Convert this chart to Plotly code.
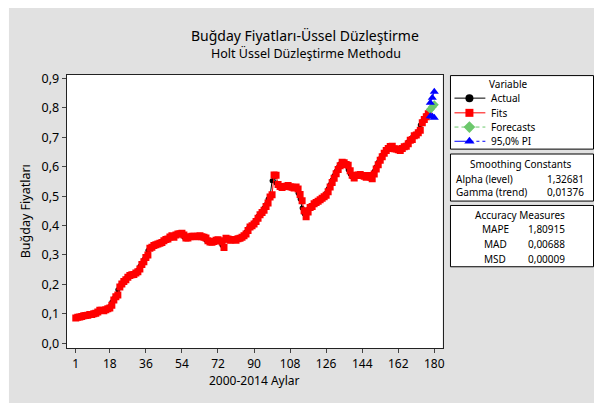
import plotly.graph_objects as go

W, H = 596, 407

actual = [
    0.087, 0.088, 0.090, 0.091, 0.092, 0.093, 0.095, 0.096, 0.098, 0.100,
    0.103, 0.108, 0.110, 0.109, 0.112, 0.115, 0.118,
    0.125, 0.140, 0.152, 0.160, 0.182, 0.195, 0.205,
    0.212, 0.220, 0.226, 0.230, 0.232, 0.236, 0.240, 0.248,
    0.262, 0.272, 0.285, 0.295, 0.315, 0.322, 0.328, 0.332,
    0.335, 0.338, 0.340, 0.345, 0.350, 0.352, 0.358, 0.362, 0.360, 0.365,
    0.368, 0.370, 0.372, 0.368, 0.360, 0.358, 0.360, 0.362, 0.363, 0.362,
    0.363, 0.364, 0.362, 0.360, 0.358, 0.350, 0.345, 0.343, 0.345, 0.348,
    0.350, 0.348, 0.345, 0.333, 0.350, 0.352, 0.350, 0.351, 0.352, 0.350,
    0.353, 0.355, 0.358, 0.362, 0.368, 0.378, 0.390, 0.396, 0.402, 0.410,
    0.420, 0.432, 0.440, 0.448, 0.460, 0.472, 0.490, 0.500, 0.552,
    0.565, 0.545, 0.535, 0.530, 0.532, 0.533, 0.535, 0.532, 0.530, 0.528, 0.530,
    0.525, 0.510, 0.490, 0.460, 0.440, 0.445, 0.455, 0.462, 0.470, 0.475,
    0.480, 0.485, 0.490, 0.495, 0.500, 0.510, 0.525, 0.540, 0.555, 0.570,
    0.585, 0.598, 0.610, 0.612, 0.608, 0.605, 0.590, 0.575, 0.565, 0.568,
    0.570, 0.572, 0.570, 0.568, 0.565, 0.568, 0.565, 0.560, 0.570, 0.585,
    0.600, 0.615, 0.628, 0.640, 0.650, 0.658, 0.665, 0.668, 0.662, 0.660,
    0.658, 0.655, 0.660, 0.665, 0.668, 0.675, 0.685, 0.690, 0.700, 0.705,
    0.712, 0.720, 0.742, 0.755, 0.765, 0.775, 0.782,
]

fits = [
    0.086, 0.088, 0.089, 0.091, 0.093, 0.094, 0.095, 0.098, 0.098, 0.100,
    0.102, 0.106, 0.112, 0.112, 0.110, 0.114, 0.117,
    0.120, 0.129, 0.147, 0.158, 0.164, 0.191, 0.201,
    0.210, 0.216, 0.224, 0.230, 0.233, 0.234, 0.239, 0.243,
    0.252, 0.268, 0.277, 0.291, 0.300, 0.323, 0.326, 0.332,
    0.335, 0.337, 0.340, 0.342, 0.348, 0.353, 0.354, 0.361, 0.365, 0.360,
    0.368, 0.371, 0.372, 0.374, 0.368, 0.358, 0.358, 0.362, 0.364, 0.364,
    0.362, 0.364, 0.365, 0.362, 0.360, 0.358, 0.348, 0.344, 0.343, 0.346,
    0.350, 0.352, 0.348, 0.345, 0.325, 0.357, 0.354, 0.350, 0.352, 0.353,
    0.350, 0.355, 0.357, 0.360, 0.365, 0.371, 0.383, 0.395, 0.399, 0.405,
    0.414, 0.425, 0.437, 0.444, 0.452, 0.465, 0.477, 0.497, 0.505,
    0.572, 0.571, 0.540, 0.533, 0.529, 0.533, 0.534, 0.536, 0.532, 0.530, 0.528,
    0.531, 0.524, 0.506, 0.484, 0.450, 0.430, 0.446, 0.461, 0.465, 0.474,
    0.478, 0.483, 0.488, 0.493, 0.498, 0.503, 0.515, 0.531, 0.546, 0.561,
    0.576, 0.591, 0.603, 0.615, 0.614, 0.608, 0.605, 0.586, 0.571, 0.562,
    0.570, 0.572, 0.574, 0.570, 0.568, 0.564, 0.570, 0.565, 0.559, 0.575,
    0.592, 0.607, 0.622, 0.634, 0.646, 0.655, 0.662, 0.669, 0.670, 0.661,
    0.660, 0.658, 0.655, 0.662, 0.668, 0.670, 0.678, 0.690, 0.693, 0.705,
    0.708, 0.716, 0.724, 0.750, 0.761, 0.770, 0.780,
]

periods = list(range(1, len(actual) + 1))
fc_periods = [178, 179, 180]
forecasts = [0.795, 0.803, 0.811]
pi_upper = [0.818, 0.835, 0.855]
pi_lower = [0.772, 0.771, 0.767]

y_tickvals = [0.0, 0.1, 0.2, 0.3, 0.4, 0.5, 0.6, 0.7, 0.8, 0.9]
y_ticktext = ["0,0", "0,1", "0,2", "0,3", "0,4", "0,5", "0,6", "0,7", "0,8", "0,9"]
x_tickvals = [1, 18, 36, 54, 72, 90, 108, 126, 144, 162, 180]

legend_names = ["Actual", "Fits", "Forecasts", "95,0% PI"]
smoothing_labels = ["Alpha (level)", "Gamma (trend)"]
smoothing_values = ["1,32681", "0,01376"]
accuracy_labels = ["MAPE", "MAD", "MSD"]
accuracy_values = ["1,80915", "0,00688", "0,00009"]

FONT = "Noto Sans"
GREEN = "#6CC86C"


def X(px):
    return px / W


def Y(py):
    return 1 - py / H


fig = go.Figure()

fig.add_trace(go.Scatter(x=periods, y=actual, mode="lines+markers",
                         line=dict(color="black", width=1),
                         marker=dict(symbol="circle", size=5, color="black"),
                         showlegend=False))
fig.add_trace(go.Scatter(x=periods, y=fits, mode="lines+markers",
                         line=dict(color="#FF0000", width=1),
                         marker=dict(symbol="square", size=7, color="#FF0000"),
                         showlegend=False))
fig.add_trace(go.Scatter(x=fc_periods, y=forecasts, mode="lines+markers",
                         line=dict(color=GREEN, width=1, dash="dash"),
                         marker=dict(symbol="diamond", size=7, color=GREEN),
                         showlegend=False))
for band in (pi_upper, pi_lower):
    fig.add_trace(go.Scatter(x=fc_periods, y=band, mode="lines+markers",
                             line=dict(color="#0000FF", width=1),
                             marker=dict(symbol="triangle-up", size=8, color="#0000FF"),
                             showlegend=False))

# Legend symbols (pixel-coordinate overlay axes)
leg_rows = [95, 110, 124.5, 139]
sym = [
    dict(color="black", symbol="circle", size=8, dash="solid"),
    dict(color="#FF0000", symbol="square", size=8, dash="solid"),
    dict(color=GREEN, symbol="diamond", size=9, dash="dash"),
    dict(color="#0000FF", symbol="triangle-up", size=9, dash="solid"),
]
for row, s in zip(leg_rows, sym):
    if s["symbol"] == "triangle-up":
        fig.add_trace(go.Scatter(x=[456, 470], y=[row, row], mode="lines",
                                 line=dict(color=s["color"], width=1),
                                 xaxis="x2", yaxis="y2", showlegend=False, hoverinfo="skip"))
        fig.add_trace(go.Scatter(x=[472, 487], y=[row, row], mode="lines",
                                 line=dict(color=s["color"], width=1, dash="3px,3px"),
                                 xaxis="x2", yaxis="y2", showlegend=False, hoverinfo="skip"))
    else:
        fig.add_trace(go.Scatter(x=[456, 487], y=[row, row], mode="lines",
                                 line=dict(color=s["color"], width=1,
                                           dash="4px,3px" if s["dash"] == "dash" else "solid"),
                                 xaxis="x2", yaxis="y2", showlegend=False, hoverinfo="skip"))
    fig.add_trace(go.Scatter(x=[471], y=[row], mode="markers",
                             marker=dict(symbol=s["symbol"], size=s["size"], color=s["color"]),
                             xaxis="x2", yaxis="y2", showlegend=False, hoverinfo="skip"))

shapes = [
    dict(type="rect", xref="paper", yref="paper", x0=X(9), x1=X(596), y0=Y(406), y1=Y(3),
         fillcolor="#E1E1E1", line=dict(width=0), layer="below"),
    dict(type="rect", xref="paper", yref="paper", x0=X(67), x1=X(444), y0=Y(350), y1=Y(71),
         fillcolor="white", line=dict(width=0), layer="below"),
]
for (t, b) in [(72, 147), (152, 200), (204.5, 267)]:
    shapes.append(dict(type="rect", xref="paper", yref="paper", x0=X(452), x1=X(595.5),
                       y0=Y(b), y1=Y(t), fillcolor="white",
                       line=dict(color="black", width=1), layer="below"))

ann = []


def add_text(text, px, py, size=10, xanchor="center", textangle=0):
    ann.append(dict(text=text, x=X(px), y=Y(py), xref="paper", yref="paper",
                    showarrow=False, xanchor=xanchor, yanchor="middle",
                    textangle=textangle,
                    font=dict(family=FONT, size=size, color="black")))


add_text("Buğday Fiyatları-Üssel Düzleştirme", 306, 31, size=14)
add_text("Holt Üssel Düzleştirme Methodu", 307, 49, size=12.5)
add_text("Buğday Fiyatları", 25.5, 210, size=12.5, textangle=-90)
add_text("2000-2014 Aylar", 255, 383, size=12)

add_text("Variable", 510, 80.5)
for row, name in zip(leg_rows, legend_names):
    add_text(name, 491, row, xanchor="left")

add_text("Smoothing Constants", 523, 162)
for row, lab, val in zip([177, 190.5], smoothing_labels, smoothing_values):
    add_text(lab, 456, row, xanchor="left")
    add_text(val, 588, row, xanchor="right")

add_text("Accuracy Measures", 522, 214)
for row, lab, val in zip([228.5, 243.5, 259], accuracy_labels, accuracy_values):
    add_text(lab, 497, row)
    add_text(val, 528, row, xanchor="left")

fig.update_layout(
    width=W, height=H, autosize=False,
    margin=dict(l=0, r=0, t=0, b=0),
    paper_bgcolor="white", plot_bgcolor="rgba(0,0,0,0)",
    showlegend=False,
    shapes=shapes, annotations=ann,
    xaxis=dict(domain=[X(67), X(444)], range=[-3.5, 184.1],
               tickvals=x_tickvals, ticktext=[str(v) for v in x_tickvals],
               ticks="outside", ticklen=4, tickcolor="#444", showgrid=False, zeroline=False,
               showline=True, linecolor="#222", linewidth=1, mirror=True,
               tickfont=dict(family=FONT, size=12, color="black")),
    yaxis=dict(domain=[Y(350), Y(71)], range=[-0.0167, 0.9133],
               tickvals=y_tickvals, ticktext=y_ticktext,
               ticks="outside", ticklen=4, tickcolor="#444", showgrid=False, zeroline=False,
               showline=True, linecolor="#222", linewidth=1, mirror=True,
               tickfont=dict(family=FONT, size=12.5, color="black")),
    xaxis2=dict(domain=[0, 1], range=[0, W], visible=False, anchor="y2", fixedrange=True),
    yaxis2=dict(domain=[0, 1], range=[H, 0], visible=False, anchor="x2", fixedrange=True),
)

fig.write_html("out.html", config={"displayModeBar": False},
               post_script="document.body.style.margin='0px';document.body.style.overflow='hidden';")
